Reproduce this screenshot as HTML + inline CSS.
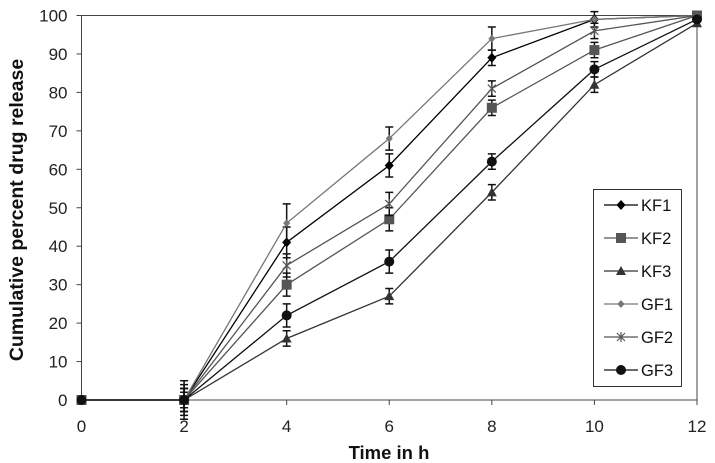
<!DOCTYPE html>
<html><head><meta charset="utf-8"><style>
body{margin:0;background:#fff;}
svg{display:block;font-family:"Liberation Sans",Arial,sans-serif;}
</style></head><body>
<svg id="chart" width="715" height="463">
<g id="grid"></g><g id="series"></g><g id="legend"></g>
</svg>
<script>
const xCats=[0,2,4,6,8,10,12];
const yTicks=[0,10,20,30,40,50,60,70,80,90,100];
const seriesNames=["KF1","KF2","KF3","GF1","GF2","GF3"];
const KF1=[0,0,41,61,89,99,100];
const KF2=[0,0,30,47,76,91,100];
const KF3=[0,0,16,27,54,82,98];
const GF1=[0,0,46,68,94,99,100];
const GF2=[0,0,35,51,81,96,100];
const GF3=[0,0,22,36,62,86,99];
const errKF1=[0,3,4,3,2,2,0];
const errKF2=[0,3,3,3,2,2,0];
const errKF3=[0,2,2,2,2,2,0];
const errGF1=[0,5,5,3,3,0,0];
const errGF2=[0,4,3,3,2,2,0];
const errGF3=[0,3,3,3,2,2,0];
const NS="http://www.w3.org/2000/svg";
const X0=81.5,X1=697,Y0=400,Y1=15.5;
const xs=v=>X0+(v-0)/12*(X1-X0);
const ys=v=>Y0-v/100*(Y0-Y1);
function mk(t,a,p){const e=document.createElementNS(NS,t);for(const k in a)e.setAttribute(k,a[k]);p.appendChild(e);return e;}
const svg=document.getElementById('chart'),grid=document.getElementById('grid'),ser=document.getElementById('series'),leg=document.getElementById('legend');
let fr=mk('rect',{x:X0,y:Y1,width:X1-X0,height:Y0-Y1,fill:'none',stroke:'#444','stroke-width':1},grid);


yTicks.forEach(v=>{
 const l=mk('line',{x1:X0-5,x2:X0,y1:ys(v),y2:ys(v),stroke:'#444'},grid);
 
 
 const t=mk('text',{x:X0-14,y:ys(v)+6,'text-anchor':'end','font-size':17,fill:'#222'},grid);
 t.textContent=v;
 
 
});
xCats.forEach(v=>{
 const l=mk('line',{x1:xs(v),x2:xs(v),y1:Y0,y2:Y0+5,stroke:'#444'},grid);
 
 
 const t=mk('text',{x:xs(v),y:Y0+32,'text-anchor':'middle','font-size':17,fill:'#222'},grid);
 t.textContent=v;
 
 
});
let xt=mk('text',{x:389,y:459,'text-anchor':'middle','font-size':18.5,'font-weight':'bold',fill:'#111'},grid);
xt.textContent='Time in h';


let yt=mk('text',{x:0,y:0,'text-anchor':'middle','font-size':19.5,'font-weight':'bold',fill:'#111',transform:'translate(23,210) rotate(-90)'},grid);
yt.textContent='Cumulative percent drug release';


const data=[KF1,KF2,KF3,GF1,GF2,GF3];
const errs=[errKF1,errKF2,errKF3,errGF1,errGF2,errGF3];
const cols=["#000","#555","#333","#777","#555","#111"];
const marks=["diamond","square","triangle","diamond-s","star","circle"];
function marker(type,x,y,c,p){
 let e;
 if(type==="diamond")e=mk('polygon',{points:`${x},${y-5} ${x+4.5},${y} ${x},${y+5} ${x-4.5},${y}`,fill:c},p);
 else if(type==="diamond-s")e=mk('polygon',{points:`${x},${y-4} ${x+3.5},${y} ${x},${y+4} ${x-3.5},${y}`,fill:c},p);
 else if(type==="square")e=mk('rect',{x:x-5,y:y-5,width:10,height:10,fill:c},p);
 else if(type==="triangle")e=mk('polygon',{points:`${x},${y-5} ${x+5},${y+4} ${x-5},${y+4}`,fill:c},p);
 else if(type==="circle")e=mk('circle',{cx:x,cy:y,r:5,fill:c},p);
 else {e=mk('path',{d:`M${x-4},${y-4}L${x+4},${y+4}M${x-4},${y+4}L${x+4},${y-4}M${x},${y-5}L${x},${y+5}`,stroke:c,'stroke-width':1.2,fill:'none'},p);}
 return e;
}
data.forEach((d,i)=>{
 const g=mk('g',{},ser);
 
 
 const pl=mk('polyline',{points:d.map((v,j)=>xs(xCats[j])+','+ys(v)).join(' '),fill:'none',stroke:cols[i],'stroke-width':1.3},g);
 
 
 d.forEach((v,j)=>{
  const e=errs[i][j];
  if(e>0){
   const x=xs(xCats[j]);
   const eb=mk('path',{d:`M${x},${ys(v+e)}V${ys(v-e)}M${x-4},${ys(v+e)}H${x+4}M${x-4},${ys(v-e)}H${x+4}`,stroke:'#111','stroke-width':1.5,fill:'none'},g);
   
   
  }
  const m=marker(marks[i],xs(xCats[j]),ys(v),cols[i],g);
  
  
 });
});
let lb=mk('rect',{x:593.5,y:189.5,width:88,height:197,fill:'#fff',stroke:'#333'},leg);


seriesNames.forEach((n,i)=>{
 const y=205+i*33;
 const g=mk('g',{},leg);
 
 
 mk('line',{x1:604,x2:638,y1:y,y2:y,stroke:cols[i],'stroke-width':1.3},g);
 marker(marks[i],621,y,cols[i],g);
 const t=mk('text',{x:641,y:y+6,'font-size':16.5,fill:'#111'},g);
 t.textContent=n;
});
</script>
</body></html>
